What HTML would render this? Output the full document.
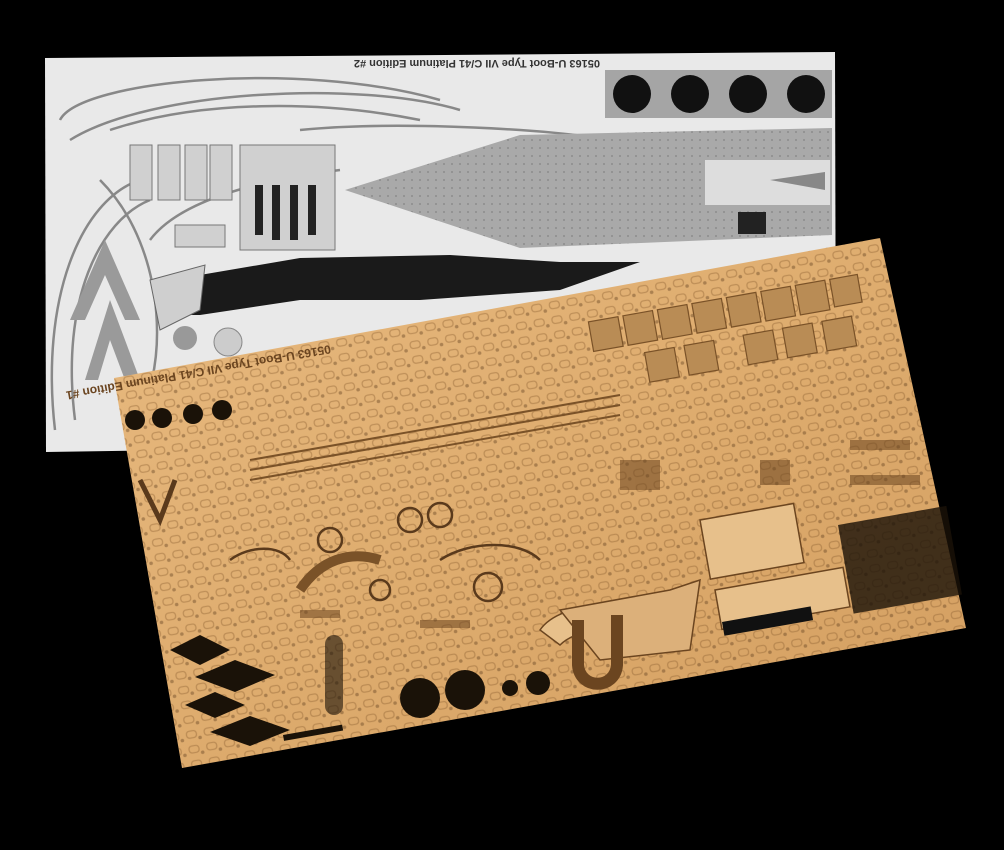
<!DOCTYPE html>
<html><head><meta charset="utf-8"><style>
html,body{margin:0;padding:0;background:#000;}
svg{display:block}
</style></head><body>
<svg width="1004" height="850" viewBox="0 0 1004 850" xmlns="http://www.w3.org/2000/svg">
<defs>
<linearGradient id="gold" x1="0" y1="0" x2="1" y2="1">
<stop offset="0" stop-color="#e8ba80"/><stop offset="0.5" stop-color="#deac6e"/><stop offset="1" stop-color="#d39e60"/>
</linearGradient>
<pattern id="parts" width="18" height="15" patternUnits="userSpaceOnUse" patternTransform="rotate(-10)">
<rect x="2" y="3" width="10" height="7" rx="3" fill="none" stroke="#8a5e30" stroke-width="1.3"/>
<circle cx="15" cy="11" r="1.8" fill="#5a3a1c"/>
</pattern>
<pattern id="silv" width="8" height="8" patternUnits="userSpaceOnUse">
<rect width="8" height="8" fill="#a9a9a9"/><circle cx="4" cy="4" r="1" fill="#8c8c8c"/>
</pattern>
</defs>
<rect width="1004" height="850" fill="#000"/>
<!-- silver sheet -->
<polygon points="45,58 835,52 836,440 46,452" fill="#e9e9e9"/>
<g stroke="#888" stroke-width="2.5" fill="none">
<path d="M60,120 C80,80 300,60 440,100"/>
<path d="M70,140 C150,90 360,80 460,110"/>
<path d="M110,130 C200,100 320,100 420,120"/>
<path d="M55,430 C40,300 80,200 140,180"/>
<path d="M75,420 C60,300 100,220 150,200"/>
<path d="M130,430 C170,380 170,250 100,180"/>
<path d="M300,130 C400,120 560,130 610,140"/>
<path d="M150,240 C180,200 260,180 340,170"/>
</g>
<rect x="605" y="70" width="227" height="48" fill="#a5a5a5"/>
<circle cx="632" cy="94" r="19" fill="#111"/><circle cx="690" cy="94" r="19" fill="#111"/>
<circle cx="748" cy="94" r="19" fill="#111"/><circle cx="806" cy="94" r="19" fill="#111"/>
<polygon points="345,190 520,135 832,128 832,235 520,248" fill="url(#silv)"/>
<rect x="705" y="160" width="125" height="45" fill="#ddd"/>
<polygon points="770,180 825,172 825,190" fill="#888"/>
<rect x="738" y="212" width="28" height="22" fill="#222"/>
<g fill="#d0d0d0" stroke="#777">
<rect x="130" y="145" width="22" height="55"/><rect x="158" y="145" width="22" height="55"/>
<rect x="185" y="145" width="22" height="55"/><rect x="210" y="145" width="22" height="55"/>
<rect x="240" y="145" width="95" height="105"/>
<rect x="175" y="225" width="50" height="22"/>
</g>
<g fill="#222"><rect x="255" y="185" width="8" height="50"/><rect x="272" y="185" width="8" height="55"/><rect x="290" y="185" width="8" height="55"/><rect x="308" y="185" width="8" height="50"/></g>
<path d="M170,315 L200,275 L300,258 L450,255 L560,262 L640,262 L560,290 L420,300 L300,300 L200,315 Z" fill="#1a1a1a"/>
<path d="M150,280 L205,265 L200,310 L160,330 Z" fill="#cfcfcf" stroke="#666"/>
<circle cx="185" cy="338" r="12" fill="#999"/><circle cx="228" cy="342" r="14" fill="#ccc" stroke="#888"/>
<polygon points="70,320 105,240 140,320 125,320 105,275 85,320" fill="#9a9a9a"/>
<polygon points="85,380 110,300 140,380 125,380 110,340 98,380" fill="#9a9a9a"/>
<text x="600" y="60" transform="rotate(180 600 60)" font-family="Liberation Sans, sans-serif" font-size="11" font-weight="bold" fill="#333">05163 U-Boot Type VII C/41 Platinum Edition #2</text>
<!-- gold sheet -->
<polygon points="114,378 880,238 966,628 182,768" fill="url(#gold)"/>
<polygon points="114,378 880,238 966,628 182,768" fill="url(#parts)" opacity="0.4"/>
<g fill="#b98c55" stroke="#7a5228" stroke-width="1.2">
<g transform="rotate(-10 600 330)">
<rect x="590" y="320" width="30" height="30"/><rect x="625" y="320" width="30" height="30"/><rect x="660" y="320" width="30" height="30"/>
<rect x="695" y="320" width="30" height="30"/><rect x="730" y="320" width="30" height="30"/><rect x="765" y="320" width="30" height="30"/>
<rect x="800" y="320" width="30" height="30"/><rect x="835" y="320" width="28" height="28"/>
<rect x="640" y="360" width="30" height="30"/><rect x="680" y="360" width="30" height="30"/><rect x="740" y="360" width="30" height="30"/>
<rect x="780" y="360" width="30" height="30"/><rect x="820" y="360" width="30" height="30"/>
</g>
</g>
<g fill="#e7c08b" stroke="#6b4520" stroke-width="1.5">
<path d="M540,630 C560,600 640,595 690,620 L680,640 C640,620 580,625 560,645 Z"/>
<rect x="700" y="520" width="95" height="60" transform="rotate(-10 700 520)"/>
<rect x="715" y="590" width="130" height="40" transform="rotate(-10 715 590)"/>
<path d="M560,610 L670,590 L700,580 L690,650 L600,660 Z" fill="#dcb07a"/>
</g>
<rect x="722" y="622" width="90" height="14" transform="rotate(-10 722 622)" fill="#111"/>
<g fill="#1a1208">
<rect x="838" y="525" width="110" height="90" transform="rotate(-10 838 525)" opacity="0.8"/>
<circle cx="420" cy="698" r="20"/><circle cx="465" cy="690" r="20"/><circle cx="538" cy="683" r="12"/><circle cx="510" cy="688" r="8"/>
<circle cx="135" cy="420" r="10"/><circle cx="162" cy="418" r="10"/><circle cx="193" cy="414" r="10"/><circle cx="222" cy="410" r="10"/>
<polygon points="170,650 200,635 230,650 200,665"/><polygon points="195,677 235,660 275,675 235,692"/>
<polygon points="185,705 215,692 245,705 215,718"/><polygon points="210,732 250,716 290,730 250,746"/>
<rect x="283" y="735" width="60" height="6" transform="rotate(-10 283 735)"/>
<rect x="325" y="635" width="18" height="80" rx="9" opacity="0.6"/>
</g>
<g fill="none" stroke="#5a3a1c" stroke-width="2.5">
<circle cx="330" cy="540" r="12"/><circle cx="410" cy="520" r="12"/><circle cx="440" cy="515" r="12"/>
<circle cx="488" cy="587" r="14"/><circle cx="380" cy="590" r="10"/>
<path d="M440,560 C470,540 520,540 540,560"/>
<path d="M230,560 C250,545 280,545 290,560"/>
</g>
<g fill="#6b4520" opacity="0.55">
<rect x="300" y="610" width="40" height="8"/><rect x="420" y="620" width="50" height="8"/>
<rect x="620" y="460" width="40" height="30"/><rect x="760" y="460" width="30" height="25"/>
<rect x="850" y="440" width="60" height="10"/><rect x="850" y="475" width="70" height="10"/>
</g>
<path d="M578,620 L578,665 C580,690 615,690 617,665 L617,615" fill="none" stroke="#6b4520" stroke-width="12"/>
<path d="M300,590 C320,560 350,550 380,560" fill="none" stroke="#7a5228" stroke-width="10"/>
<path d="M140,480 L160,520 L175,480" fill="none" stroke="#5a3a1c" stroke-width="5"/>
<g stroke="#7a5228" stroke-width="2" fill="none">
<path d="M250,470 L620,405"/><path d="M250,480 L620,415"/><path d="M250,460 L620,395"/>
</g>
<text x="330" y="345" transform="rotate(170 330 345)" font-family="Liberation Sans, sans-serif" font-size="12" font-weight="bold" fill="#6b4520">05163 U-Boot Type VII C/41 Platinum Edition #1</text>
</svg>
</body></html>
